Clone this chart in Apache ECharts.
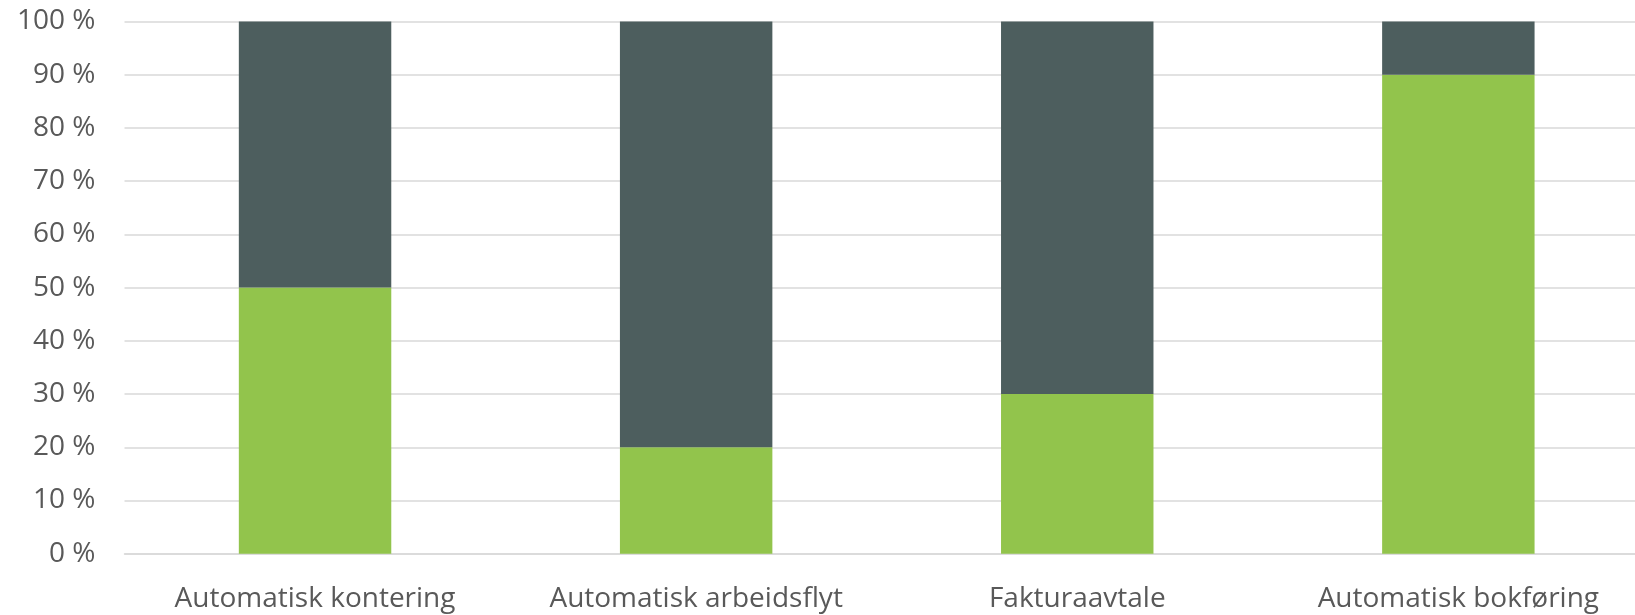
<!DOCTYPE html>
<html><head><meta charset="utf-8">
<script src="https://cdn.jsdelivr.net/npm/echarts@6/dist/echarts.min.js"></script>
<style>html,body{margin:0;padding:0;background:#fff}#c{width:1635px;height:615px}</style>
</head><body><div id="c"></div>
<script>
const categories = ["Automatisk kontering", "Automatisk arbeidsflyt", "Fakturaavtale", "Automatisk bokføring"];
const greenValues = [50, 20, 30, 90];
const darkValues = [50, 80, 70, 10];
const yTicks = [0, 10, 20, 30, 40, 50, 60, 70, 80, 90, 100];

const chart = echarts.init(document.getElementById('c'));
const font = "'Open Sans', 'Liberation Sans', sans-serif";
chart.setOption({
  animation: false,
  grid: { left: 124.5, top: 21.5, width: 1524.4, height: 532.2, containLabel: false, outerBoundsMode: 'none' },
  xAxis: {
    type: 'category', data: categories,
    axisLine: { show: true, lineStyle: { color: '#d9d9d9', width: 1.5 } },
    axisTick: { show: false },
    axisLabel: { color: '#595959', fontSize: 28, fontFamily: font, margin: 31, interval: 0, hideOverlap: false }
  },
  yAxis: {
    type: 'value', min: 0, max: 100, interval: 10,
    axisLine: { show: false }, axisTick: { show: false },
    splitLine: { lineStyle: { color: '#d9d9d9', width: 1.5 } },
    axisLabel: { color: '#595959', fontSize: 28, fontFamily: font, margin: 29,
      formatter: v => yTicks.includes(v) ? v + ' %' : '' }
  },
  series: [
    { type: 'bar', stack: 's', data: greenValues, barWidth: '40%', itemStyle: { color: '#92c44c' } },
    { type: 'bar', stack: 's', data: darkValues, barWidth: '40%', itemStyle: { color: '#4d5e5e' } }
  ]
});
</script></body></html>
